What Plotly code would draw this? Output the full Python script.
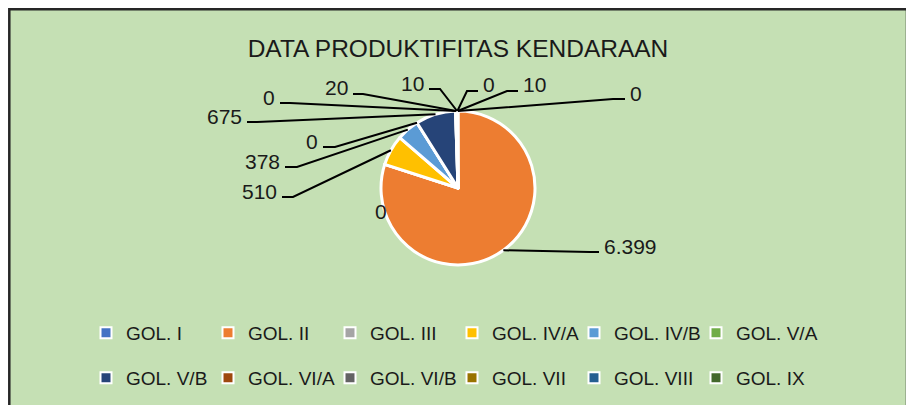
import math
import plotly.graph_objects as go

# data
categories = ["GOL. I", "GOL. II", "GOL. III", "GOL. IV/A", "GOL. IV/B", "GOL. V/A",
              "GOL. V/B", "GOL. VI/A", "GOL. VI/B", "GOL. VII", "GOL. VIII", "GOL. IX"]
values = [0, 6399, 0, 510, 378, 0, 675, 0, 20, 10, 0, 10]
value_labels = ["0", "6.399", "0", "510", "378", "0", "675", "0", "20", "10", "0", "10"]
colors = ["#4472C4", "#ED7D31", "#A5A5A5", "#FFC000", "#5B9BD5", "#70AD47",
          "#264478", "#9E480E", "#636363", "#997300", "#255E91", "#43682B"]

# page is offset by the body margin (8px), so the figure is drawn 8px smaller
OFF = 8
FW, FH = 914 - OFF, 405 - OFF
CX, CY, R = 458, 188, 77
FONT = "Liberation Sans, Arial, sans-serif"
TXT = "#1a1a1a"

# label placement (page pixels): elbow x, line y, end x of horizontal segment, side
label_pos = [
    (613, 99, 625, "r"),
    (590, 252, 599, "r"),
    None,
    (293, 197, 282, "l"),
    (297, 167, 285, "l"),
    (335, 147, 323, "l"),
    (257, 122, 247, "l"),
    (290, 103, 280, "l"),
    (363, 94, 353, "l"),
    (440, 89, 429, "l"),
    (467, 91, 478, "r"),
    (507, 91, 518, "r"),
]


def px(x, y):
    return (x - OFF) / FW, 1 - (y - OFF) / FH


fig = go.Figure()
d0, d1 = px(CX - R, CY + R), px(CX + R, CY - R)
fig.add_pie(
    labels=categories, values=values, sort=False, direction="clockwise", rotation=0,
    marker=dict(colors=colors, line=dict(color="white", width=3)),
    textinfo="none", showlegend=False, hoverinfo="label+value",
    domain=dict(x=[d0[0], d1[0]], y=[d0[1], d1[1]]),
)

# legend entries, two rows
for i, (cat, col) in enumerate(zip(categories, colors)):
    fig.add_scatter(
        x=[None], y=[None], mode="markers", name=cat,
        marker=dict(symbol="square", size=11, color=col, line=dict(color="white", width=2)),
        legend="legend" if i < 6 else "legend2",
    )

b0, b1 = px(9.3, 9.3), px(907, 420)
shapes = [dict(type="rect", xref="paper", yref="paper", x0=b0[0], x1=b1[0], y0=b1[1], y1=b0[1],
               fillcolor="#C5E0B4", line=dict(color="#262626", width=2.5), layer="below")]
annotations = []
total = sum(values)
cum = 0
for i, v in enumerate(values):
    mid = (cum + v / 2) / total * 2 * math.pi
    cum += v
    sx, sy = CX + R * math.sin(mid), CY - R * math.cos(mid)
    pos = label_pos[i]
    if pos is None:
        x, y = px(381, 211)
        annotations.append(dict(x=x, y=y, xref="paper", yref="paper", text=value_labels[i],
                                showarrow=False, font=dict(size=21, color=TXT, family=FONT)))
        continue
    ex, ly, hx, side = pos
    p0, p1, p2 = px(sx, sy), px(ex, ly), px(hx, ly)
    shapes.append(dict(type="path", xref="paper", yref="paper",
                       path=f"M {p0[0]},{p0[1]} L {p1[0]},{p1[1]} L {p2[0]},{p2[1]}",
                       line=dict(color="black", width=2), layer="above"))
    tx = hx + 3 if side == "r" else hx - 3
    x, y = px(tx, ly - 6)
    annotations.append(dict(x=x, y=y, xref="paper", yref="paper", text=value_labels[i],
                            showarrow=False, xanchor="left" if side == "r" else "right",
                            yanchor="middle", font=dict(size=21, color=TXT, family=FONT)))

legend_style = dict(orientation="h", xanchor="left", yanchor="middle", bgcolor="rgba(0,0,0,0)",
                    entrywidth=77, entrywidthmode="pixels", itemwidth=30,
                    font=dict(size=19, color=TXT, family=FONT))
l1, l2 = px(86, 333), px(86, 378)
t = px(458, 48)

fig.update_layout(
    width=FW, height=FH,
    margin=dict(l=0, r=0, t=0, b=0),
    paper_bgcolor="white", plot_bgcolor="rgba(0,0,0,0)",
    title=dict(text="DATA PRODUKTIFITAS KENDARAAN", x=t[0], xanchor="center",
               y=t[1], yanchor="middle", font=dict(size=24.5, color=TXT, family=FONT)),
    xaxis=dict(visible=False), yaxis=dict(visible=False),
    legend=dict(x=l1[0], y=l1[1], **legend_style),
    legend2=dict(x=l2[0], y=l2[1], **legend_style),
    shapes=shapes, annotations=annotations,
)

fig.write_html("out.html")
